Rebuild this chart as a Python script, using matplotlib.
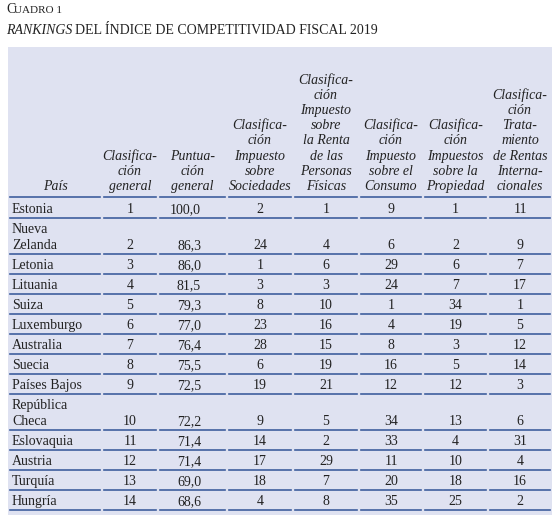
import matplotlib
matplotlib.use("Agg")
import matplotlib.pyplot as plt

countries = ["Estonia", "Nueva\nZelanda", "Letonia", "Lituania", "Suiza", "Luxemburgo",
             "Australia", "Suecia", "Países Bajos", "República\nCheca", "Eslovaquia",
             "Austria", "Turquía", "Hungría"]
general = [1, 2, 3, 4, 5, 6, 7, 8, 9, 10, 11, 12, 13, 14]
score = ["100,0", "86,3", "86,0", "81,5", "79,3", "77,0", "76,4", "75,5", "72,5",
         "72,2", "71,4", "71,4", "69,0", "68,6"]
sociedades = [2, 24, 1, 3, 8, 23, 28, 6, 19, 9, 14, 17, 18, 4]
personas = [1, 4, 6, 3, 10, 16, 15, 19, 21, 5, 2, 29, 7, 8]
consumo = [9, 6, 29, 24, 1, 4, 8, 16, 12, 34, 33, 11, 20, 35]
propiedad = [1, 2, 6, 7, 34, 19, 3, 5, 12, 13, 4, 10, 18, 25]
internac = [11, 9, 7, 17, 1, 5, 12, 14, 3, 6, 31, 4, 16, 2]

headers = ["País", "Clasifica-\nción\ngeneral", "Puntua-\nción\ngeneral",
           "Clasifica-\nción\nImpuesto\nsobre\nSociedades",
           "Clasifica-\nción\nImpuesto\nsobre\nla Renta\nde las\nPersonas\nFísicas",
           "Clasifica-\nción\nImpuesto\nsobre el\nConsumo",
           "Clasifica-\nción\nImpuestos\nsobre la\nPropiedad",
           "Clasifica-\nción\nTrata-\nmiento\nde Rentas\nInterna-\ncionales"]

col_x = [8, 102, 158, 227, 293, 359, 423, 488, 552]
row_bottom = [197, 218, 254, 274, 294, 314, 334, 354, 374, 394, 430, 450, 470, 490, 510]
top, bottom = 47, 515
line_c = "#3f5f9e"
bg = "#dfe2f1"
serif = "Liberation Serif"

fig = plt.figure(figsize=(5.59, 5.22), dpi=100, facecolor="white")
ax = fig.add_axes([0, 0, 1, 1])
ax.set_xlim(0, 559)
ax.set_ylim(522, 0)
ax.axis("off")

# titles
ax.text(6, 13, "C", fontsize=10, family=serif, va="baseline", color="#222")
ax.text(14, 13, "UADRO 1", fontsize=8, family=serif, va="baseline", color="#222")
t2 = ax.text(6, 34, "RANKINGS", fontsize=10, family=serif, style="italic",
             va="baseline", color="#222")
fig.canvas.draw()
bb = t2.get_window_extent().transformed(ax.transData.inverted())
ax.text(bb.x1 + 3, 34, "DEL ÍNDICE DE COMPETITIVIDAD FISCAL 2019", fontsize=10,
        family=serif, va="baseline", color="#222")

ax.add_patch(plt.Rectangle((col_x[0], top), col_x[-1] - col_x[0], bottom - top,
                           facecolor=bg, edgecolor="none"))

# header
for i, h in enumerate(headers):
    cx = (col_x[i] + col_x[i + 1]) / 2
    ax.text(cx, 190, h, fontsize=10, family=serif, style="italic",
            ha="center", va="baseline", multialignment="center",
            linespacing=1.22, color="#222")

# underlines per cell
for y in row_bottom:
    for i in range(len(col_x) - 1):
        ax.plot([col_x[i] + 2, col_x[i + 1] - 2], [y, y], color=line_c, lw=1.2)

cols = [general, score, sociedades, personas, consumo, propiedad, internac]
for r, name in enumerate(countries):
    yb = row_bottom[r + 1] - 5
    ax.text(12, yb, name, fontsize=10, family=serif, va="baseline",
            linespacing=1.3, color="#222")
    for c, vals in enumerate(cols):
        if c == 1:
            ax.text(col_x[3] - 26, yb, vals[r], fontsize=10, family=serif,
                    ha="right", va="baseline", color="#222")
            continue
        cx = (col_x[c + 1] + col_x[c + 2]) / 2
        ax.text(cx, yb, str(vals[r]), fontsize=10, family=serif, ha="center",
                va="baseline", color="#222")

fig.savefig("out.png", dpi=100, facecolor="white")
